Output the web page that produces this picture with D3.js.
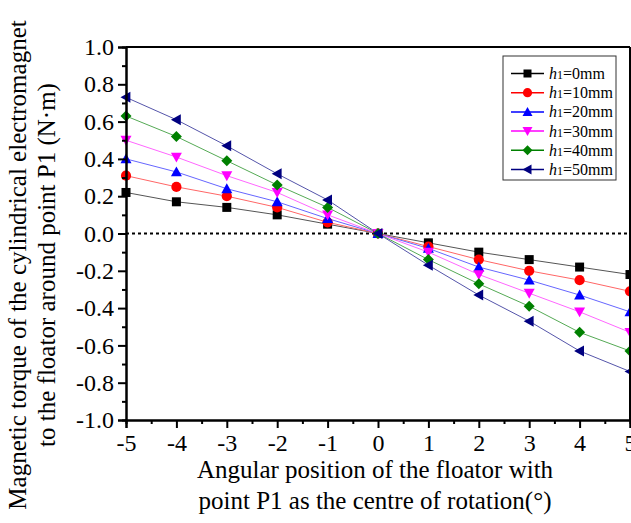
<!DOCTYPE html>
<html>
<head>
<meta charset="utf-8">
<script src="https://cdn.jsdelivr.net/npm/d3@7"></script>
<style>
  body { margin: 0; background: #fff; }
  svg { font-family: "Liberation Serif", "Times New Roman", serif; }
</style>
</head>
<body>
<div id="chart"></div>
<script>
// Data
let angles = [-5, -4, -3, -2, -1, 0, 1, 2, 3, 4, 5]
let h0  = [0.22, 0.17, 0.14, 0.10, 0.05, 0, -0.05, -0.10, -0.14, -0.18, -0.22]
let h10 = [0.31, 0.25, 0.20, 0.14, 0.06, 0, -0.07, -0.14, -0.20, -0.25, -0.31]
let h20 = [0.40, 0.33, 0.24, 0.17, 0.08, 0, -0.08, -0.18, -0.25, -0.33, -0.42]
let h30 = [0.50, 0.41, 0.31, 0.22, 0.10, 0, -0.10, -0.22, -0.32, -0.42, -0.53]
let h40 = [0.63, 0.52, 0.39, 0.26, 0.14, 0, -0.14, -0.27, -0.39, -0.53, -0.63]
let h50 = [0.73, 0.61, 0.47, 0.32, 0.18, 0, -0.17, -0.33, -0.47, -0.63, -0.74]
let seriesNames = ["0mm", "10mm", "20mm", "30mm", "40mm", "50mm"]
let xTicks = [-5, -4, -3, -2, -1, 0, 1, 2, 3, 4, 5]
let yTicks = [-1.0, -0.8, -0.6, -0.4, -0.2, 0.0, 0.2, 0.4, 0.6, 0.8, 1.0]

let colors = ["#000000", "#ff0000", "#0000ff", "#ff00ff", "#008000", "#000080"]
let lineColors = ["#555555", "#ff6666", "#6666ff", "#ff66ff", "#55aa55", "#5555aa"]
let symbols = ["square", "circle", "up", "down", "diamond", "left"]
let allSeries = [h0, h10, h20, h30, h40, h50]

let w = 631, h = 523
let padL = 126, padR = 630, padT = 47, padB = 420

let svg = d3.select("#chart").append("svg").attr("width", w).attr("height", h)

let xScale = d3.scaleLinear().domain([-5, 5]).range([padL, padR])
let yScale = d3.scaleLinear().domain([-1, 1]).range([padB, padT])

// marker drawing helper
function marker(g, type, cx, cy, color, s) {
    if (type == "square") {
        g.append("rect").attr("x", cx - s / 2).attr("y", cy - s / 2).attr("width", s).attr("height", s).attr("fill", color)
    } else if (type == "circle") {
        g.append("circle").attr("cx", cx).attr("cy", cy).attr("r", s / 2 + 0.6).attr("fill", color)
    } else {
        let r = s / 2 + 1
        let pts
        if (type == "up") pts = [[cx, cy - r], [cx + r, cy + r * 0.8], [cx - r, cy + r * 0.8]]
        if (type == "down") pts = [[cx, cy + r], [cx + r, cy - r * 0.8], [cx - r, cy - r * 0.8]]
        if (type == "left") pts = [[cx - r, cy], [cx + r * 0.8, cy - r], [cx + r * 0.8, cy + r]]
        if (type == "diamond") pts = [[cx, cy - r], [cx + r, cy], [cx, cy + r], [cx - r, cy]]
        g.append("polygon").attr("points", pts.map(p => p.join(",")).join(" ")).attr("fill", color)
    }
}

// zero reference line
svg.append("line")
    .attr("x1", padL).attr("x2", padR)
    .attr("y1", yScale(0)).attr("y2", yScale(0))
    .attr("stroke", "#000").attr("stroke-width", 2)
    .attr("stroke-dasharray", "3,3")

// series lines and markers
let line = d3.line().x((d, i) => xScale(angles[i])).y(d => yScale(d))
allSeries.forEach((vals, k) => {
    svg.append("path")
        .attr("d", line(vals))
        .attr("fill", "none")
        .attr("stroke", lineColors[k])
        .attr("stroke-width", 1)
})
allSeries.forEach((vals, k) => {
    let g = svg.append("g")
    vals.forEach((v, i) => marker(g, symbols[k], xScale(angles[i]), yScale(v), colors[k], 9))
})

// frame
svg.append("line").attr("x1", padL).attr("x2", padR).attr("y1", padT).attr("y2", padT)
    .attr("stroke", "#000").attr("stroke-width", 2)
svg.append("line").attr("x1", padR).attr("x2", padR).attr("y1", padT).attr("y2", padB)
    .attr("stroke", "#000").attr("stroke-width", 2)

// axes (plain hyphen for negatives, as in the figure)
let fmtY = d => d3.format(".1f")(d).replace("\u2212", "-")
let fmtX = d => d3.format("d")(d).replace("\u2212", "-")
let yAxis = d3.axisLeft(yScale).tickValues(yTicks).tickFormat(fmtY).tickSize(8).tickPadding(4)
let yMinor = d3.axisLeft(yScale).tickValues(d3.range(-0.9, 1.0, 0.2)).tickFormat("").tickSize(4)
let xAxis = d3.axisBottom(xScale).tickValues(xTicks).tickFormat(fmtX).tickSize(8).tickPadding(6)
let xMinor = d3.axisBottom(xScale).tickValues(d3.range(-4.5, 5, 1)).tickFormat("").tickSize(4)

svg.append("g").attr("transform", "translate(" + padL + ",0)").call(yAxis)
svg.append("g").attr("transform", "translate(" + padL + ",0)").call(yMinor)
svg.append("g").attr("transform", "translate(0," + padB + ")").call(xAxis)
svg.append("g").attr("transform", "translate(0," + padB + ")").call(xMinor)

svg.selectAll(".domain").attr("stroke-width", 2)
svg.selectAll(".tick line").attr("stroke-width", 2)
svg.selectAll(".tick text").attr("font-family", "Liberation Serif").attr("font-size", 24).attr("fill", "#000")

// axis titles
svg.append("text")
    .attr("transform", "translate(26,265) rotate(-90)")
    .attr("text-anchor", "middle").attr("font-size", 25)
    .text("Magnetic torque of the cylindrical electromagnet")
svg.append("text")
    .attr("transform", "translate(55,265) rotate(-90)")
    .attr("text-anchor", "middle").attr("font-size", 25)
    .text("to the floator around point P1 (N\u00b7m)")
svg.append("text")
    .attr("x", 375).attr("y", 478)
    .attr("text-anchor", "middle").attr("font-size", 25)
    .text("Angular position of the floator with")
svg.append("text")
    .attr("x", 375).attr("y", 509)
    .attr("text-anchor", "middle").attr("font-size", 25)
    .text("point P1 as the centre of rotation(\u00b0)")

// legend
let lg = svg.append("g")
lg.append("rect").attr("x", 503).attr("y", 56).attr("width", 113).attr("height", 124)
    .attr("fill", "#fff").attr("stroke", "#333").attr("stroke-width", 1)
seriesNames.forEach((name, k) => {
    let yy = 73.5 + k * 19.2
    lg.append("line").attr("x1", 511).attr("x2", 544).attr("y1", yy).attr("y2", yy)
        .attr("stroke", colors[k]).attr("stroke-width", 1.5)
    marker(lg, symbols[k], 527.5, yy, colors[k], 8)
    let t = lg.append("text").attr("x", 549).attr("y", yy + 5.5).attr("font-size", 16)
    t.append("tspan").attr("font-style", "italic").text("h")
    t.append("tspan").attr("font-size", 12).text("1")
    t.append("tspan").text("=" + name)
})
</script>
</body>
</html>
